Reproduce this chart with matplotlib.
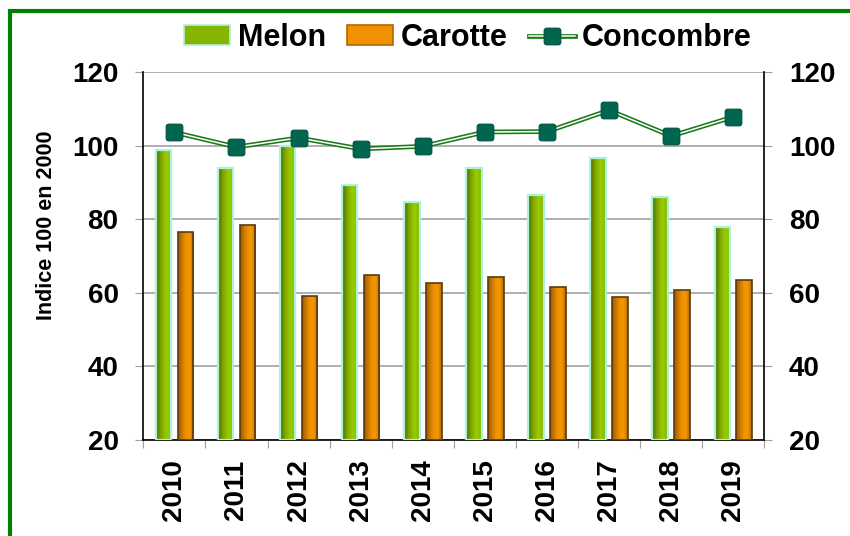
import numpy as np
import matplotlib
matplotlib.use("Agg")
import matplotlib.pyplot as plt
from matplotlib.colors import LinearSegmentedColormap
from matplotlib.lines import Line2D
from matplotlib.patches import Rectangle, Patch
from matplotlib.path import Path

plt.rcParams["font.family"] = ["Liberation Sans", "DejaVu Sans"]
plt.rcParams["font.weight"] = "bold"

annees    = ["2010", "2011", "2012", "2013", "2014", "2015", "2016", "2017", "2018", "2019"]
melon     = [98.7, 93.9, 99.8, 89.4, 84.8, 93.9, 86.7, 96.6, 85.9, 78.0]
carotte   = [76.4, 78.4, 59.2, 64.9, 62.6, 64.3, 61.5, 58.9, 60.8, 63.6]
concombre = [103.6, 99.6, 102.1, 99.1, 99.8, 103.7, 103.8, 109.6, 102.6, 107.8]
yticks    = [20, 40, 60, 80, 100, 120]
base      = 20

cmap_melon = LinearSegmentedColormap.from_list("melon", ["#4f6a00", "#7fa800", "#9acc00", "#86b400"])
cmap_carot = LinearSegmentedColormap.from_list("carot", ["#9a5a00", "#c87800", "#f09200", "#f29600", "#b06a00"])

# marqueur carré aux coins arrondis
_t = np.linspace(0, np.pi / 2, 6)
_pts = []
for cx, cy, a0 in [(0.7, 0.7, 0), (-0.7, 0.7, np.pi / 2), (-0.7, -0.7, np.pi), (0.7, -0.7, 1.5 * np.pi)]:
    _pts += [(cx + 0.3 * np.cos(a0 + t), cy + 0.3 * np.sin(a0 + t)) for t in _t]
carre_rond = Path(_pts + [_pts[0]], closed=True)


def degrade(ax, bars, cmap):
    # remplit chaque barre avec un dégradé horizontal
    grad = np.linspace(0, 1, 64).reshape(1, -1)
    for b in bars:
        x0, y0 = b.get_x(), b.get_y()
        im = ax.imshow(grad, cmap=cmap, aspect="auto", zorder=3.5,
                       extent=(x0, x0 + b.get_width(), y0, y0 + b.get_height()))
        im.set_clip_path(b)
        b.set_zorder(4)
        b.set_facecolor("none")


fig = plt.figure(figsize=(8.5, 5.36), dpi=100)
ax = fig.add_axes([0.1686, 0.1791, 0.7306, 0.6866])

x = np.arange(len(annees))
w = 0.25
b1 = ax.bar(x - 0.177, np.array(melon) - base, w, bottom=base,
            facecolor="#86b400", edgecolor="#a8f5dc", lw=1.6, zorder=3)
b2 = ax.bar(x + 0.177, np.array(carotte) - base, w, bottom=base,
            facecolor="#f09200", edgecolor="#5c3a10", lw=1.2, zorder=3)
degrade(ax, b1, cmap_melon)
degrade(ax, b2, cmap_carot)

ax.plot(x, concombre, color="#1a7a1a", lw=3.4, zorder=5)
ax.plot(x, concombre, color="white", lw=1.1, zorder=6)
ax.plot(x, concombre, ls="none", marker=carre_rond, ms=12, mfc="#006650", mec="#005040",
        mew=0.8, zorder=7)

ax.set_xlim(-0.5, len(annees) - 0.5)
ax.set_ylim(20, 120)
ax.set_yticks(yticks)
ax.grid(axis="y", color="#a8a8a8", lw=1.3, zorder=0)
ax.tick_params(axis="y", which="both", direction="out", length=5.8, color="#a0a0a0",
               left=True, right=True, labelleft=True, labelright=True,
               labelsize=20, pad=12)
ax.set_xticks(np.arange(len(annees) + 1) - 0.5)
ax.set_xticklabels([])
ax.set_xticks(x, minor=True)
ax.set_xticklabels(annees, minor=True, rotation=90, fontsize=20)
ax.tick_params(axis="x", which="major", direction="out", length=5.8, color="#a0a0a0")
ax.tick_params(axis="x", which="minor", length=0, pad=14)
ax.spines["top"].set_visible(False)
for s in ["left", "right", "bottom"]:
    ax.spines[s].set_color("black")
    ax.spines[s].set_linewidth(1.2)
for lab in ax.get_yticklabels() + ax.get_xticklabels(minor=True):
    lab.set_fontweight("bold")

fig.text(47 / 850, 1 - 225 / 536, "Indice 100 en 2000", rotation=90, fontsize=15.5,
         fontweight="bold", ha="center", va="center")

h_melon = Patch(facecolor="#86b400", edgecolor="#a8f5dc", lw=1.2)
h_carot = Patch(facecolor="#f09200", edgecolor="#b06a00", lw=1.2)
h_conc = (Line2D([], [], color="#1a7a1a", lw=3.4),
          Line2D([], [], color="white", lw=1.1),
          Line2D([], [], ls="none", marker=carre_rond, ms=12, mfc="#006650", mec="#005040", mew=0.8))
fig.legend([h_melon, h_carot, h_conc], ["Melon", "Carotte", "Concombre"],
           loc="center", bbox_to_anchor=(468 / 850, 1 - 38 / 536), ncol=3, frameon=False,
           prop={"size": 22, "weight": "bold"}, handlelength=1.5, handleheight=0.65,
           handletextpad=0.25, columnspacing=0.7, borderaxespad=0)

fig.add_artist(Rectangle((9.5 / 850, -0.1), 1.2, 1.1 - 11.5 / 536, transform=fig.transFigure,
                         fill=False, edgecolor="#008000", lw=3))

fig.savefig("out.png", dpi=100)
